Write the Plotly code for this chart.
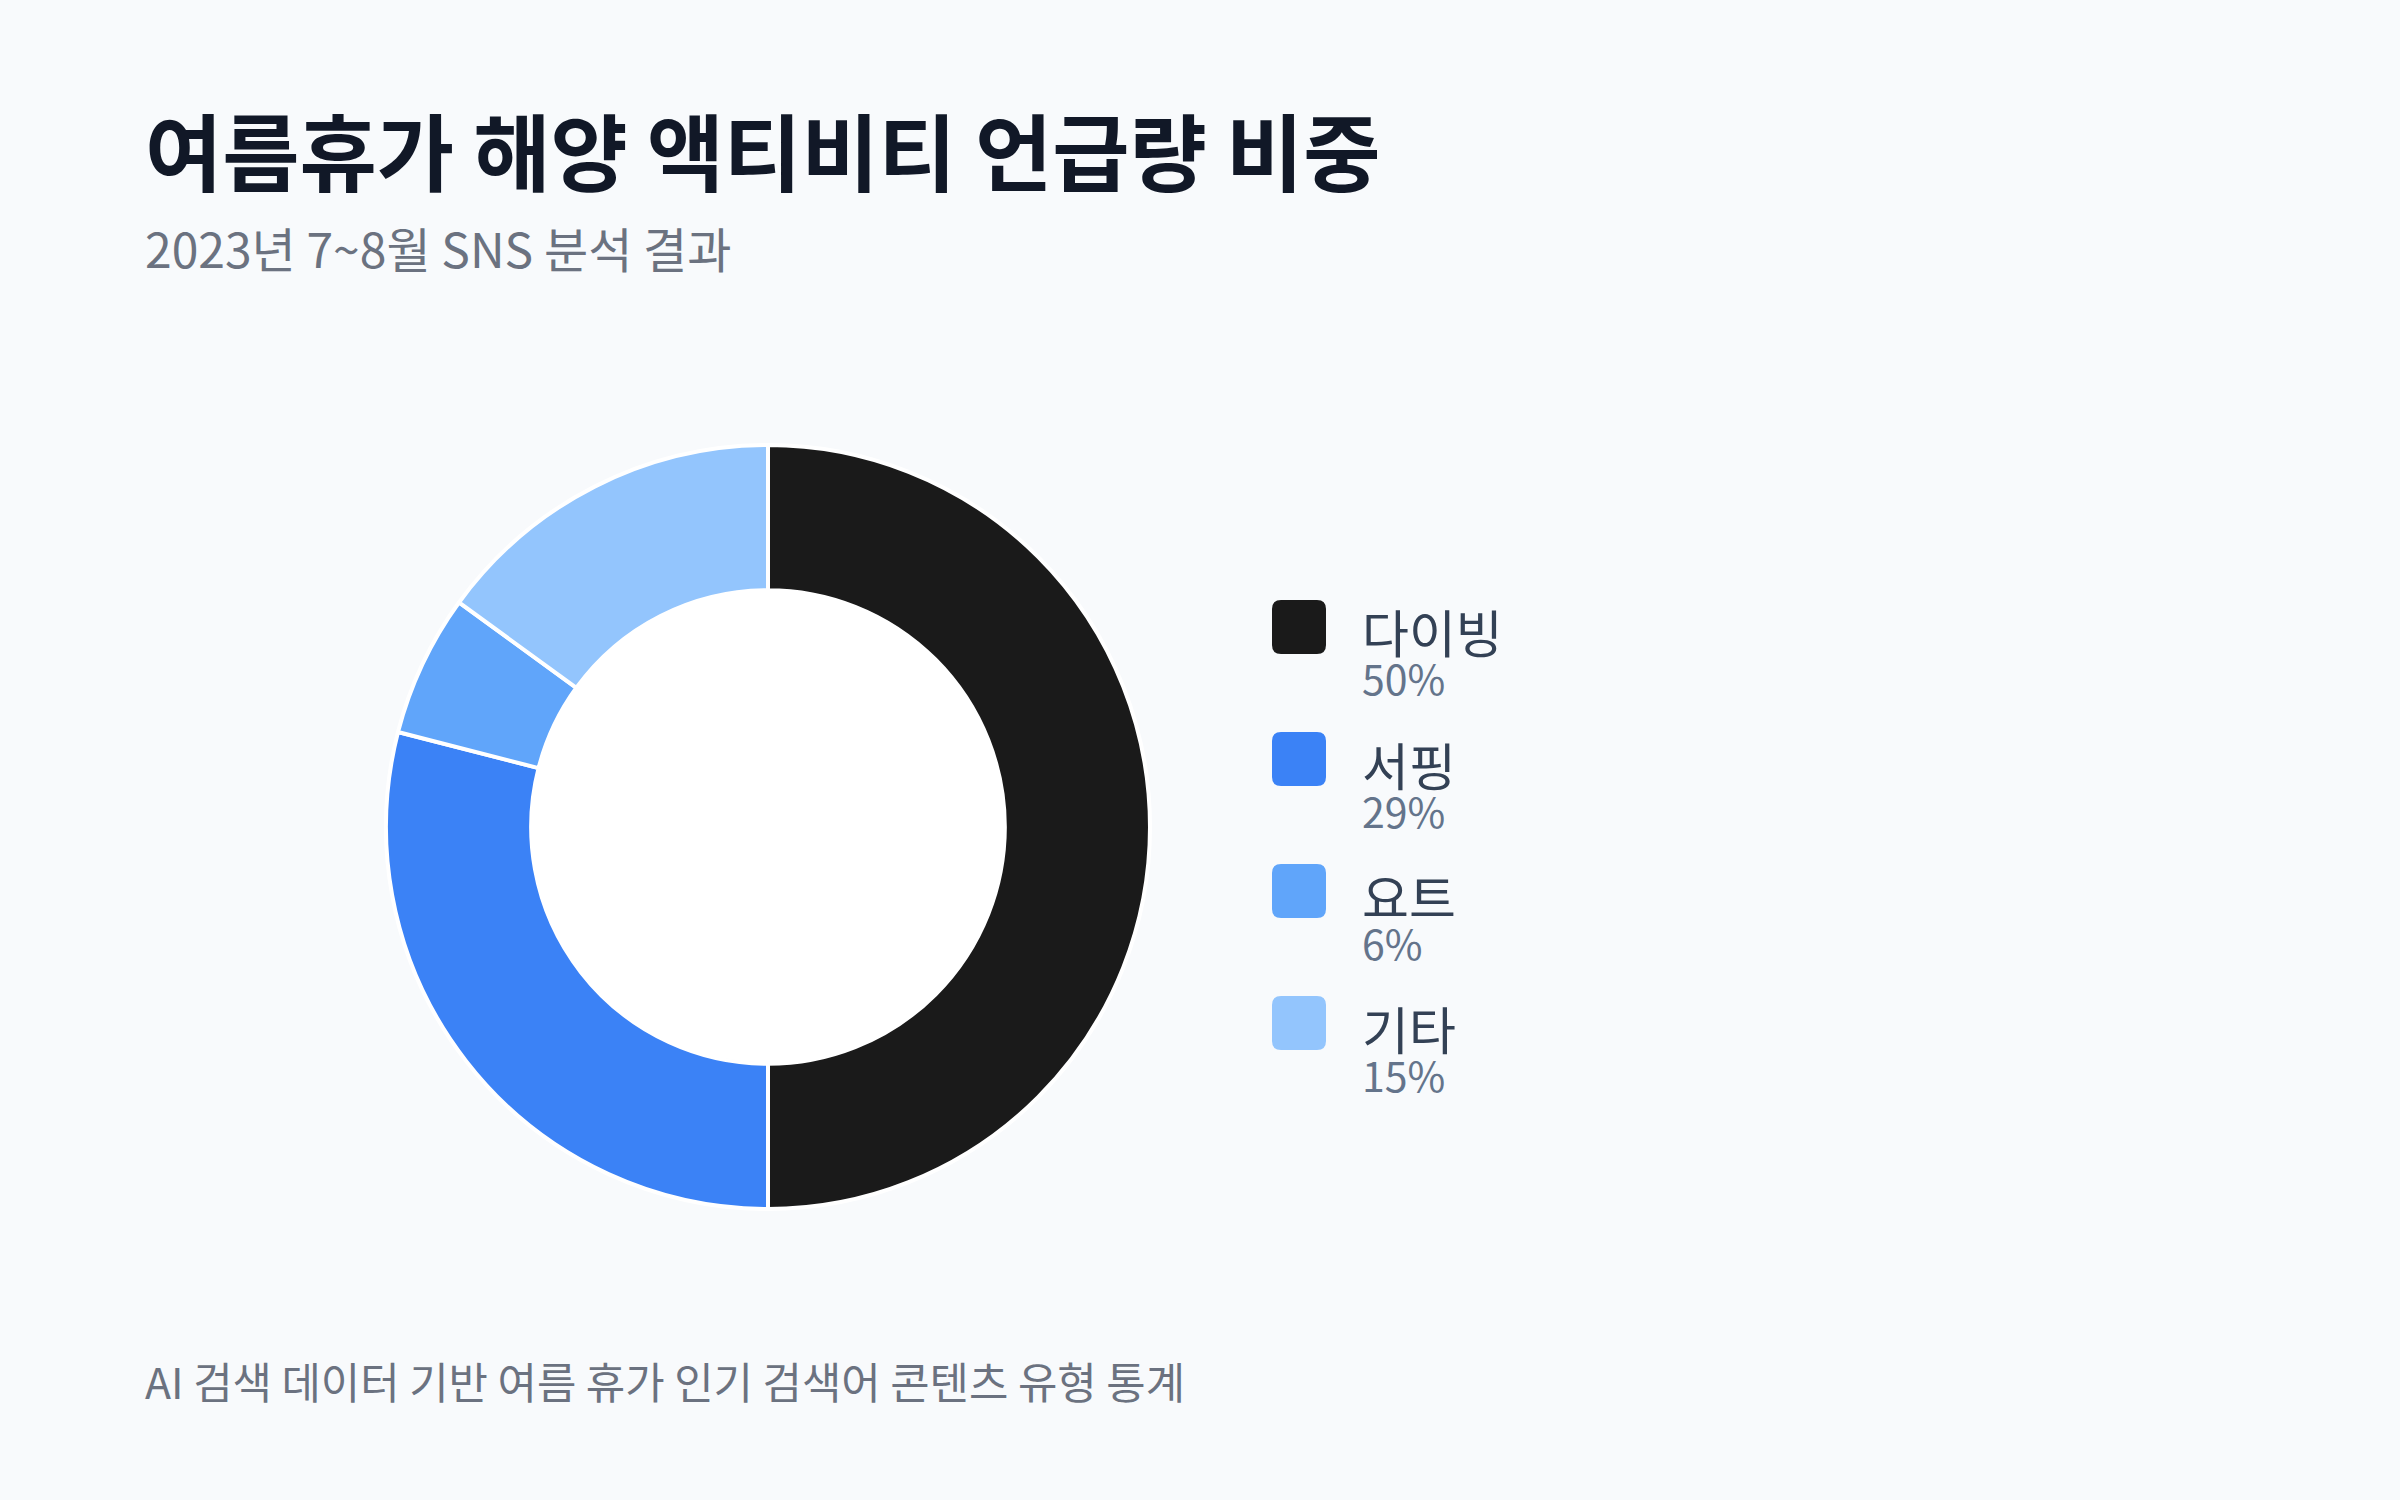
import plotly.graph_objects as go

title = "여름휴가 해양 액티비티 언급량 비중"
subtitle = "2023년 7~8월 SNS 분석 결과"
footer = "AI 검색 데이터 기반 여름 휴가 인기 검색어 콘텐츠 유형 통계"

labels = ["다이빙", "서핑", "요트", "기타"]
values = [50, 29, 6, 15]
colors = ["#1a1a1a", "#3b82f6", "#60a5fa", "#93c5fd"]

W, H = 2400, 1500
FONT = "Noto Sans CJK KR"

def px(x):
    return x / W

def py(y):
    return 1 - y / H

cx, cy, R = 768, 827, 382
hole = 0.62

fig = go.Figure()
fig.add_trace(go.Pie(
    labels=labels, values=values, sort=False, direction="clockwise", rotation=0,
    hole=hole, marker=dict(colors=colors, line=dict(color="#ffffff", width=4)),
    textinfo="none", hoverinfo="label+percent", showlegend=False,
    domain=dict(x=[px(cx - R), px(cx + R)], y=[py(cy + R), py(cy - R)]),
))

shapes = []
ri = R * hole - 1.5
shapes.append(dict(type="circle", xref="paper", yref="paper",
                   x0=px(cx - ri), x1=px(cx + ri), y0=py(cy + ri), y1=py(cy - ri),
                   fillcolor="#ffffff", line=dict(width=0), layer="above"))

annotations = [
    dict(text=title, x=px(143), y=py(211), xref="paper", yref="paper",
         xanchor="left", yanchor="bottom", showarrow=False,
         font=dict(family=FONT, size=84, color="#111827", weight="bold")),
    dict(text=subtitle, x=px(143), y=py(284), xref="paper", yref="paper",
         xanchor="left", yanchor="bottom", showarrow=False,
         font=dict(family=FONT, size=48, color="#6b7280")),
    dict(text=footer, x=px(143), y=py(1413), xref="paper", yref="paper",
         xanchor="left", yanchor="bottom", showarrow=False,
         font=dict(family=FONT, size=42.8, color="#6b7280")),
]

total = sum(values)
sx0, sw, rr = 1272, 54, 9
for i, (lab, val, col) in enumerate(zip(labels, values, colors)):
    top = 600 + i * 132
    x0, x1 = px(sx0), px(sx0 + sw)
    y0, y1 = py(top), py(top + sw)
    rx, ry = rr / W, rr / H
    path = (f"M {x0+rx},{y0} L {x1-rx},{y0} Q {x1},{y0} {x1},{y0-ry} "
            f"L {x1},{y1+ry} Q {x1},{y1} {x1-rx},{y1} L {x0+rx},{y1} "
            f"Q {x0},{y1} {x0},{y1+ry} L {x0},{y0-ry} Q {x0},{y0} {x0+rx},{y0} Z")
    shapes.append(dict(type="path", path=path, xref="paper", yref="paper",
                       fillcolor=col, line=dict(width=0)))
    pct = f"{round(val / total * 100)}%"
    text = (f"<span style='font-size:51px;color:#334155'>{lab}</span><br>"
            f"<span style='font-size:41px;color:#64748b'>{pct}</span>")
    annotations.append(dict(text=text, x=px(1360), y=py(top + 51), xref="paper", yref="paper",
                            xanchor="left", yanchor="middle", align="left", showarrow=False,
                            font=dict(family=FONT, size=32, color="#334155")))

fig.update_layout(
    width=W, height=H, margin=dict(l=0, r=0, t=0, b=0),
    paper_bgcolor="#f8fafc", plot_bgcolor="#f8fafc",
    shapes=shapes, annotations=annotations, showlegend=False,
)

fig.write_html("out.html")
